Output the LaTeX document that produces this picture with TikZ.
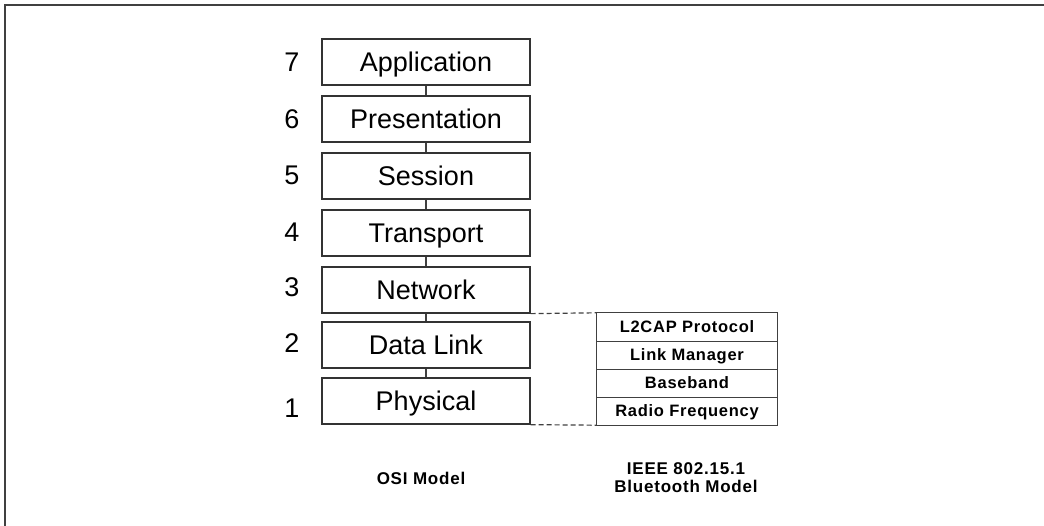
\documentclass[tikz,border=0pt]{standalone}
\usepackage{fontspec}
\setmainfont{Liberation Sans}
\begin{document}
\begin{tikzpicture}[x=1pt,y=-1pt,
  osibox/.style={draw=black!80,line width=1.3pt,minimum width=208pt,minimum height=46pt,inner sep=0pt,text height=19.4pt,text depth=0pt,font=\fontsize{27}{30}\selectfont},
  btrow/.style={minimum width=180pt,minimum height=28pt,inner sep=0pt,text height=11.8pt,text depth=0pt,font=\fontsize{16.5}{18}\selectfont\bfseries\addfontfeature{LetterSpace=4.5}},
  num/.style={inner sep=0pt,text height=19.4pt,text depth=0pt,font=\fontsize{27}{30}\selectfont},
  link/.style={draw=black!75,line width=1.2pt},
  dashlink/.style={draw=black!75,line width=1.2pt,dash pattern=on 5pt off 3pt},
  caption/.style={font=\fontsize{17}{20}\selectfont\bfseries\addfontfeature{LetterSpace=4.5},align=center}]
\useasboundingbox (0,0) rectangle (1044,526);
\draw[line width=2pt,draw=black!75] (5,526) -- (5,5) -- (1044,5);
% OSI boxes
\node[osibox] (app) at (426,62) {Application};
\node[osibox] (pres) at (426,119) {Presentation};
\node[osibox] (sess) at (426,176) {Session};
\node[osibox] (trans) at (426,233) {Transport};
\node[osibox] (net) at (426,290) {Network};
\node[osibox] (dl) at (426,345) {Data Link};
\node[osibox] (phy) at (426,401) {Physical};
% numbers
\node[num] (n7) at (292,62) {7};
\node[num] (n6) at (292,119) {6};
\node[num] (n5) at (292,175) {5};
\node[num] (n4) at (292,232) {4};
\node[num] (n3) at (292,287) {3};
\node[num] (n2) at (292,343) {2};
\node[num] (n1) at (292,408) {1};
% connectors
\draw[link] (app) -- (pres);
\draw[link] (pres) -- (sess);
\draw[link] (sess) -- (trans);
\draw[link] (trans) -- (net);
\draw[link] (net) -- (dl);
\draw[link] (dl) -- (phy);
% Bluetooth
\node[btrow] (l2cap) at (687,327) {L2CAP Protocol};
\node[btrow] (lm) at (687,355) {Link Manager};
\node[btrow] (bb) at (687,383) {Baseband};
\node[btrow] (rf) at (687,411) {Radio Frequency};
\draw[link] (l2cap.north west) rectangle (rf.south east);
\draw[link] (l2cap.south west) -- (l2cap.south east);
\draw[link] (lm.south west) -- (lm.south east);
\draw[link] (bb.south west) -- (bb.south east);
\draw[dashlink] (net.south east) -- (l2cap.north west);
\draw[dashlink] (phy.south east) -- (rf.south west);
% captions
\node[caption] (osicap) at (421,478) {OSI Model};
\node[caption] (btcap) at (686,478) {IEEE 802.15.1\\[-2pt]Bluetooth Model};
\end{tikzpicture}
\end{document}
